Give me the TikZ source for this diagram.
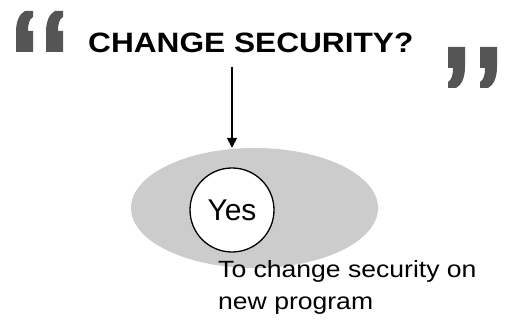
\documentclass[tikz,border=0pt]{standalone}
\usepackage{fontspec}
\setmainfont{Liberation Sans}
\newfontfamily\widesans[FakeStretch=1.13]{Liberation Sans}
\usepackage{tikz}
\usetikzlibrary{arrows.meta,positioning,shapes.geometric}
\definecolor{quotegray}{RGB}{85,85,85}
\definecolor{blobgray}{RGB}{204,204,204}

\begin{document}
\begin{tikzpicture}[x=1pt,y=1pt,>={Triangle[length=10pt,width=10pt]},
  quotemark/.pic={\fill[quotegray] (0,0) -- (0,20) .. controls (0,30) and (3,38) .. (9,41) -- (17,41) -- (17,35) .. controls (13,33) and (12,27) .. (12,21) -- (17,21) -- (17,0) -- cycle;}]
\useasboundingbox (0,0) rectangle (507,320);
\pic at (16,268) {quotemark};
\pic at (46,268) {quotemark};
\pic[rotate=180] at (465,273) {quotemark};
\pic[rotate=180] at (497,273) {quotemark};
\node[font=\widesans\bfseries\fontsize{28}{32}\selectfont,anchor=base west,inner sep=0pt] (question) at (88,267) {CHANGE SECURITY?};
\node[ellipse,fill=blobgray,minimum width=247pt,minimum height=120pt,inner sep=0pt] (blob) at (254.5,112) {};
\node[circle,draw=black,line width=1.3pt,fill=white,minimum size=84pt,inner sep=0pt,font=\fontsize{30}{36}\selectfont] (yes) at (232,110) {Yes};
\node[font=\widesans\fontsize{23.5}{32}\selectfont,align=left,anchor=base west,inner sep=0pt] (note) at (218,10) {To change security on\\new program};
\draw[->,line width=1.6pt,shorten <=14pt] (question.base -| yes.north) -- (blob.north -| yes.north);
\end{tikzpicture}
\end{document}
